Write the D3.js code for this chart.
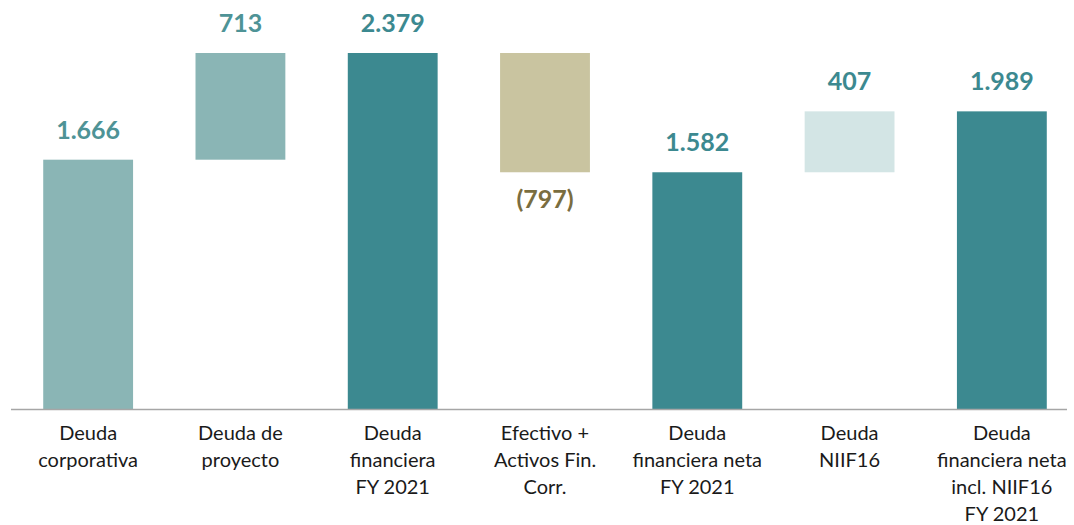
<!DOCTYPE html>
<html>
<head>
<meta charset="utf-8">
<script src="https://cdn.jsdelivr.net/npm/d3@7"></script>
<style>
  body { margin: 0; background: #fff; }
  text { font-family: Lato, "Open Sans", sans-serif; }
</style>
</head>
<body>
<script>
// data
var categories = [
  ["Deuda", "corporativa"],
  ["Deuda de", "proyecto"],
  ["Deuda", "financiera", "FY 2021"],
  ["Efectivo +", "Activos Fin.", "Corr."],
  ["Deuda", "financiera neta", "FY 2021"],
  ["Deuda", "NIIF16"],
  ["Deuda", "financiera neta", "incl. NIIF16", "FY 2021"]
];
var values = [1666, 713, 2379, -797, 1582, 407, 1989];
var isTotal = [true, false, true, false, true, false, true];
var valueLabels = ["1.666", "713", "2.379", "(797)", "1.582", "407", "1.989"];
var barColors = ["#8ab5b5", "#8ab5b5", "#3c8990", "#c9c4a0", "#3c8990", "#d3e5e5", "#3c8990"];
var labelColors = ["#4e9396", "#4e9396", "#3c8990", "#7a6d3f", "#3c8990", "#3c8990", "#3c8990"];

var width = 1074, height = 525;

var svg = d3.select("body").append("svg")
  .attr("width", width)
  .attr("height", height);

// build waterfall start/end
var running = 0;
var bars = values.map(function(v, i) {
  var b;
  if (isTotal[i]) { b = {start: 0, end: v}; running = v; }
  else { b = {start: running, end: running + v}; running += v; }
  b.i = i; b.v = v;
  return b;
});

var x = d3.scaleBand()
  .domain(d3.range(categories.length))
  .range([12, 1078])
  .paddingInner(0.41)
  .paddingOuter(0.205);

var y = d3.scaleLinear()
  .domain([0, d3.max(bars, function(d) { return Math.max(d.start, d.end); })])
  .range([409, 53]);

svg.append("g").selectAll("rect")
  .data(bars)
  .enter().append("rect")
    .attr("x", function(d) { return x(d.i); })
    .attr("width", x.bandwidth())
    .attr("y", function(d) { return y(Math.max(d.start, d.end)); })
    .attr("height", function(d) { return Math.abs(y(d.start) - y(d.end)); })
    .attr("fill", function(d) { return barColors[d.i]; });

// axis baseline
svg.append("line")
  .attr("x1", 11).attr("x2", 1067)
  .attr("y1", y(0) + 0.5).attr("y2", y(0) + 0.5)
  .attr("stroke", "#a6a6a6")
  .attr("stroke-width", 1.5);

// value labels
svg.append("g").selectAll("text")
  .data(bars)
  .enter().append("text")
    .attr("x", function(d) { return x(d.i) + x.bandwidth() / 2; })
    .attr("y", function(d) {
      return d.v < 0 ? y(Math.min(d.start, d.end)) + 36 : y(Math.max(d.start, d.end)) - 21;
    })
    .attr("text-anchor", "middle")
    .attr("font-weight", "bold")
    .attr("font-size", 25)
    .attr("fill", function(d) { return labelColors[d.i]; })
    .text(function(d) { return valueLabels[d.i]; });

// category labels
var cat = svg.append("g").selectAll("text")
  .data(categories)
  .enter().append("text")
    .attr("x", function(d, i) { return x(i) + x.bandwidth() / 2; })
    .attr("y", 440)
    .attr("text-anchor", "middle")
    .attr("font-size", 20)
    .attr("fill", "#1a1a1a");

cat.selectAll("tspan")
  .data(function(d) { return d; })
  .enter().append("tspan")
    .attr("x", function() { return d3.select(this.parentNode).attr("x"); })
    .attr("dy", function(d, j) { return j === 0 ? 0 : 27; })
    .text(function(d) { return d; });
</script>
</body>
</html>
